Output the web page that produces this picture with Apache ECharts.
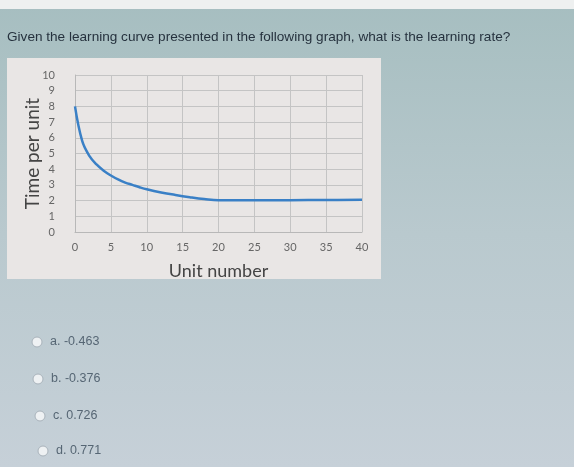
<!DOCTYPE html>
<html>
<head>
<meta charset="utf-8">
<script src="https://cdn.jsdelivr.net/npm/echarts@6/dist/echarts.min.js"></script>
<style>
	html, body { margin: 0; padding: 0; }
	#chart { width: 574px; height: 467px; }
</style>
</head>
<body>
<div id="chart"></div>
<script>
// values
var unitX = [0, 1, 2, 3, 4, 5, 6, 7, 8, 9, 10, 12, 14, 16, 18, 20, 25, 30, 35, 40];
var timeY = [8.0, 5.8, 4.85, 4.3, 3.9, 3.6, 3.35, 3.15, 3.0, 2.85, 2.72, 2.52, 2.36, 2.22, 2.1, 2.02, 2.02, 2.03, 2.04, 2.05];
var question = 'Given the learning curve presented in the following graph, what is the learning rate?';
var optionLetters = ['a', 'b', 'c', 'd'];
var optionValues = ['-0.463', '-0.376', '0.726', '0.771'];

var points = [];
for (var i = 0; i < unitX.length; i++) {
	points.push([unitX[i], timeY[i]]);
}

// radio buttons drift right a little (photo perspective)
var optX = [37, 38, 40, 43];
var optY = [342, 379, 416, 451];

var graphics = [ {
	type : 'rect',
	z : -10,
	shape : { x : 0, y : 0, width : 574, height : 467 },
	style : {
		fill : new echarts.graphic.LinearGradient(0, 0, 0, 1, [
			{ offset : 0, color : '#a6bec0' },
			{ offset : 0.5, color : '#b9c9ce' },
			{ offset : 1, color : '#c6d0d8' }
		])
	}
}, {
	type : 'rect',
	z : -9,
	shape : { x : 0, y : 0, width : 574, height : 9 },
	style : { fill : '#eef0f0' }
}, {
	type : 'rect',
	z : -8,
	shape : { x : 7, y : 58, width : 374, height : 221 },
	style : { fill : '#e9e6e5' }
}, {
	type : 'text',
	left : 7,
	top : 30,
	style : {
		text : question,
		fill : '#26323e',
		font : '13.6px "Liberation Sans", Arial, sans-serif'
	}
} ];

for (var k = 0; k < optionLetters.length; k++) {
	graphics.push({
		type : 'circle',
		shape : { cx : optX[k], cy : optY[k], r : 5 },
		style : { fill : '#eef1f3', stroke : '#a9b3bb', lineWidth : 1 }
	});
	graphics.push({
		type : 'text',
		x : optX[k] + 13,
		y : optY[k],
		style : {
			text : optionLetters[k] + '. ' + optionValues[k],
			fill : '#566674',
			font : '12.5px "Liberation Sans", Arial, sans-serif',
			verticalAlign : 'middle'
		}
	});
}

var option = {
	animation : false,
	graphic : graphics,
	grid : {
		left : 75,
		top : 75,
		width : 287,
		height : 157
	},
	xAxis : {
		type : 'value',
		min : 0,
		max : 40,
		interval : 5,
		name : 'Unit number',
		nameLocation : 'middle',
		nameGap : 30,
		nameTextStyle : { color : '#444', fontSize : 18, fontFamily : 'Lato' },
		axisLine : { lineStyle : { color : '#b8b8b8' } },
		axisTick : { show : false },
		axisLabel : { color : '#666', fontSize : 11, fontFamily : 'Lato', margin : 10 },
		splitLine : { show : true, lineStyle : { color : '#c4c4c4' } }
	},
	yAxis : {
		type : 'value',
		min : 0,
		max : 10,
		interval : 1,
		name : 'Time per unit',
		nameLocation : 'middle',
		nameGap : 33,
		nameMoveOverlap : false,
		nameTextStyle : { color : '#444', fontSize : 19, fontFamily : 'Lato' },
		axisLine : { show : true, lineStyle : { color : '#b8b8b8' } },
		axisTick : { show : false },
		axisLabel : { color : '#666', fontSize : 11, fontFamily : 'Lato', margin : 20 },
		splitLine : { show : true, lineStyle : { color : '#c4c4c4' } }
	},
	series : [ {
		type : 'line',
		data : points,
		smooth : 0.4,
		showSymbol : false,
		lineStyle : { color : '#3a80c6', width : 2.5 }
	} ]
};

var myChart = echarts.init(document.getElementById('chart'));
myChart.setOption(option, true);
</script>
</body>
</html>
